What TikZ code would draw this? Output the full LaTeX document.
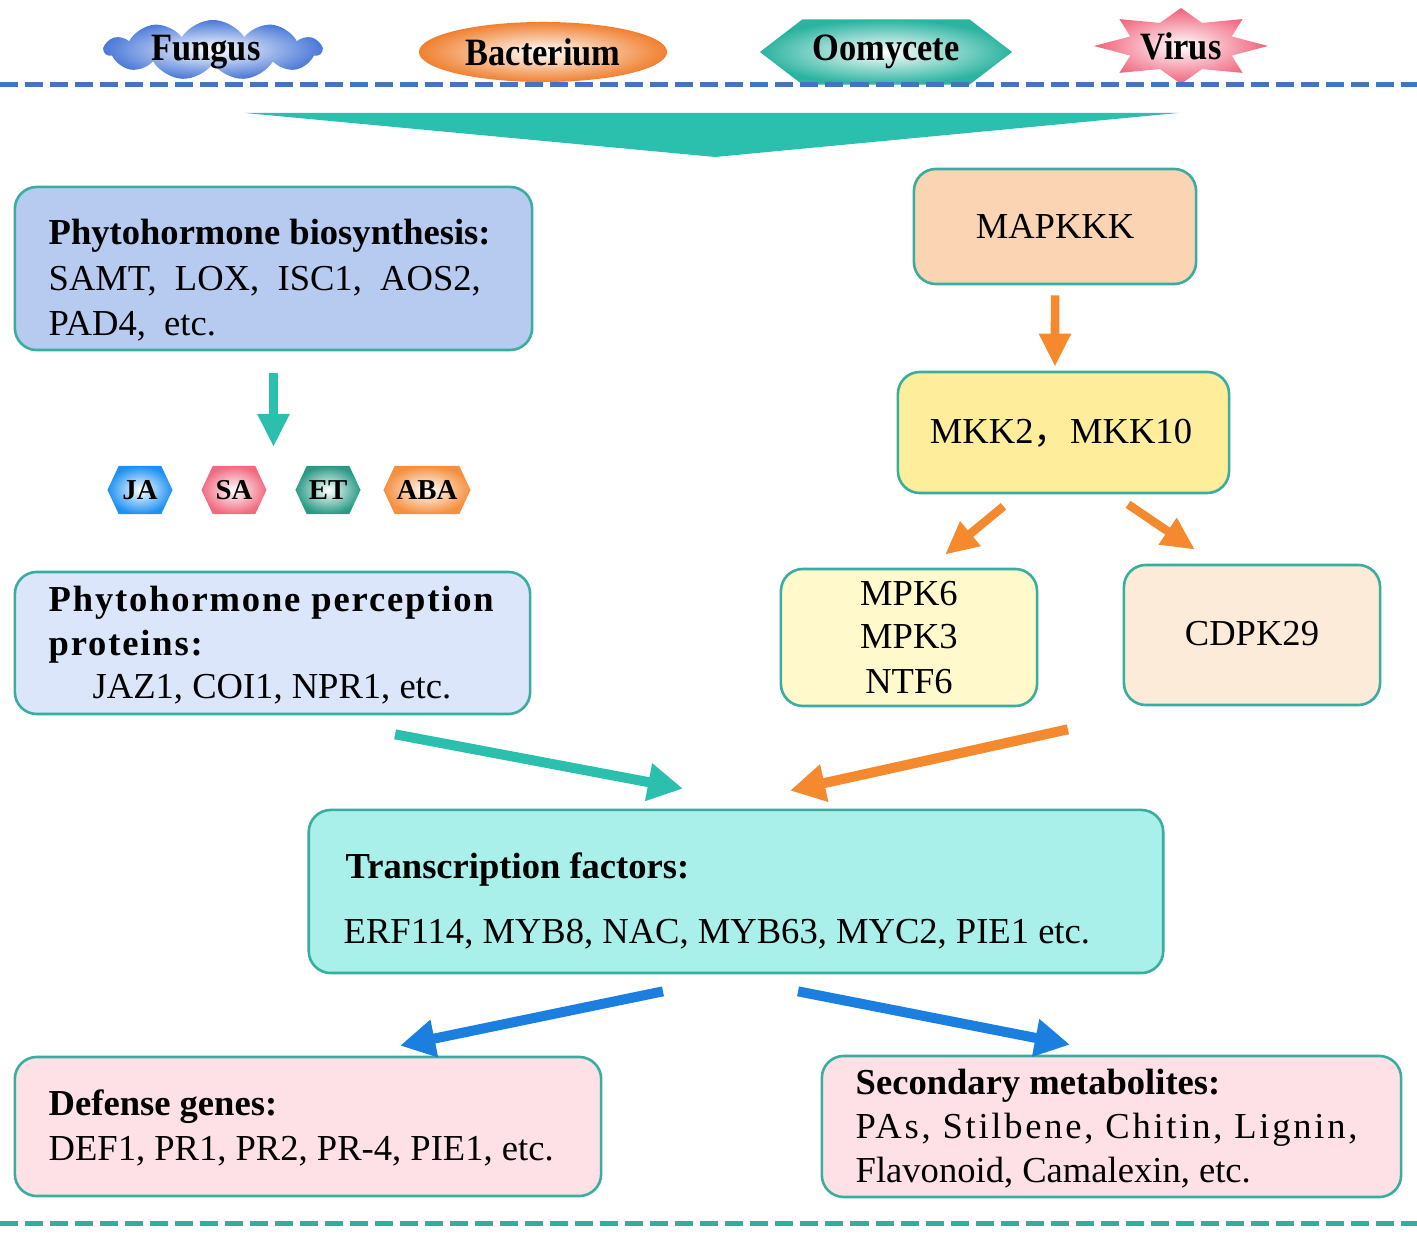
\documentclass[tikz,border=0pt]{standalone}
\usepackage{fontspec}
\setmainfont{Liberation Serif}
\newfontfamily\cjkfont{Noto Sans CJK SC}
\newfontfamily\tagfont[FakeStretch=0.89]{Liberation Serif}
\usetikzlibrary{shapes.geometric,shapes.symbols,arrows.meta}

\definecolor{boxLine}{HTML}{3AAE9E}
\definecolor{bioFill}{HTML}{B7CAF0}
\definecolor{perFill}{HTML}{DCE6FA}
\definecolor{mapFill}{HTML}{FBD4B4}
\definecolor{mkkFill}{HTML}{FEEE9B}
\definecolor{mpkFill}{HTML}{FFF9CC}
\definecolor{cdpFill}{HTML}{FDEBDA}
\definecolor{tfFill}{HTML}{AAF0EA}
\definecolor{outFill}{HTML}{FDE1E6}
\definecolor{tealArr}{HTML}{2BBFAE}
\definecolor{orangeArr}{HTML}{F5892E}
\definecolor{blueArr}{HTML}{1A7FDE}
\definecolor{dashBlue}{HTML}{4472C4}
\definecolor{dashTeal}{HTML}{30B09C}
\definecolor{fungBlue}{HTML}{4A78D8}
\definecolor{bactOrange}{HTML}{F08030}
\definecolor{oomTeal}{HTML}{2AB3A0}
\definecolor{virPink}{HTML}{F0607A}
\definecolor{jaBlue}{HTML}{1E90F0}
\definecolor{saPink}{HTML}{F06A80}
\definecolor{etTeal}{HTML}{2A9A85}
\definecolor{abaOrange}{HTML}{F59040}

\newcommand\txtsize{\fontsize{10.4}{12.5}\selectfont}
\newcommand\tagsize{\fontsize{11}{13}\selectfont}

\begin{document}
\begin{tikzpicture}[x=0.01cm, y=-0.01cm]
\tikzset{pbox/.style={draw=boxLine, line width=0.026cm, rounded corners=0.22cm, inner sep=0pt},
  txt/.style={anchor=base west, inner sep=0pt, font=\txtsize},
  hexTag/.style={signal, signal to=west and east, signal pointer angle=130, minimum width=0.65cm,
    minimum height=0.48cm, inner sep=0pt, inner color=white, font=\fontsize{8.2}{9}\selectfont\bfseries},
  smallarrow/.style={-{Triangle[length=0.33cm,width=0.3cm]}, line width=0.085cm},
  bigarrow/.style={-{Triangle[length=0.35cm,width=0.36cm]}, line width=0.1cm},
  dashline/.style={line width=0.05cm, dash pattern=on 0.18cm off 0.07cm}}
\useasboundingbox (0,0) rectangle (1417,1237);

% pathogens
\node[cloud, cloud puffs=11, cloud puff arc=115, cloud ignores aspect, minimum width=2.17cm, minimum height=0.6cm,
  inner sep=0pt, inner color=white, outer color=fungBlue] (fungCloud) at (213,50) {};
\node[inner sep=0pt, font=\tagsize\tagfont\bfseries] (fungus) at (206,52) {Fungus};
\node[ellipse, minimum width=2.48cm, minimum height=0.6cm, inner sep=0pt, inner color=white,
  outer color=bactOrange, font=\tagsize\tagfont\bfseries] (bacterium) at (543,52) {Bacterium};
\node[signal, signal to=west and east, signal pointer angle=75, minimum width=2.52cm, minimum height=0.65cm,
  inner sep=0pt, inner color=white, outer color=oomTeal, font=\tagsize\tagfont\bfseries] (oomycete) at (886,52) {Oomycete};
\shade[shift={(1181,46)}, inner color=white, outer color=virPink] (0:87 and 38)
  \foreach \a in {0,45,...,315} { -- (\a:87 and 38) -- (\a+22.5:55 and 25) } -- cycle;
\node[inner sep=0pt, font=\tagsize\tagfont\bfseries] (virus) at (1181,46) {Virus};
\draw[dashline, dashBlue] (0,85) -- (1417,85);

% funnel
\fill[tealArr] (245,113) -- (1178,113) -- (715,157) -- cycle;

% hormone branch
\node[pbox, fill=bioFill, minimum width=5.17cm, minimum height=1.63cm] (bio) at (273.5,268.5) {};
\node[txt, font=\txtsize\bfseries] (bioHd) at (48,245) {Phytohormone biosynthesis:};
\node[txt] (bioL1) at (48,291) {SAMT,\ \ LOX,\ \ ISC1,\ \ AOS2,};
\node[txt] (bioL2) at (48,336) {PAD4,\ \ etc.};

\coordinate (hormTop) at (273.5,447);
\node[hexTag, outer color=jaBlue] (ja) at (140,490) {JA};
\node[hexTag, outer color=saPink] (sa) at (234,490) {SA};
\node[hexTag, outer color=etTeal] (et) at (328,490) {ET};
\node[hexTag, outer color=abaOrange, minimum width=0.87cm] (aba) at (427,490) {ABA};

\node[pbox, fill=perFill, minimum width=5.15cm, minimum height=1.42cm] (per) at (272.5,643) {};
\node[txt, font=\txtsize\bfseries\addfontfeature{LetterSpace=5}] (perHd) at (48,612) {Phytohormone perception};
\node[txt, font=\txtsize\bfseries\addfontfeature{LetterSpace=5}] (perHd2) at (48,656) {proteins:};
\node[txt] (perL1) at (92,699) {JAZ1, COI1, NPR1, etc.};

% MAPK branch
\node[pbox, fill=mapFill, minimum width=2.82cm, minimum height=1.15cm] (mapk) at (1055,226.5) {};
\node[txt, anchor=base] (mapTxt) at (1055,239) {MAPKKK};
\node[pbox, fill=mkkFill, minimum width=3.31cm, minimum height=1.21cm] (mkk) at (1063.5,432.5) {};
\node[txt, anchor=base] (mkkTxt) at (1061,444) {MKK2{\cjkfont ，}MKK10};
\node[pbox, fill=mpkFill, minimum width=2.56cm, minimum height=1.37cm] (mpk) at (909,637.5) {};
\node[txt, anchor=base] (mpk6) at (909,606) {MPK6};
\node[txt, anchor=base] (mpk3) at (909,649) {MPK3};
\node[txt, anchor=base] (ntf6) at (909,694) {NTF6};
\node[pbox, fill=cdpFill, minimum width=2.56cm, minimum height=1.4cm] (cdpk) at (1252,635) {};
\node[txt, anchor=base] (cdpTxt) at (1252,646) {CDPK29};

% transcription factors
\node[pbox, fill=tfFill, minimum width=8.54cm, minimum height=1.63cm] (tf) at (736,891.5) {};
\node[txt, font=\txtsize\bfseries] (tfHd) at (345,879) {Transcription factors:};
\node[txt] (tfL1) at (343,944) {ERF114, MYB8, NAC, MYB63, MYC2, PIE1 etc.};

% outputs
\node[pbox, fill=outFill, minimum width=5.86cm, minimum height=1.39cm] (def) at (308,1126.5) {};
\node[txt, font=\txtsize\bfseries] (defHd) at (48,1116) {Defense genes:};
\node[txt] (defL1) at (48,1161) {DEF1, PR1, PR2, PR-4, PIE1, etc.};
\node[pbox, fill=outFill, minimum width=5.79cm, minimum height=1.41cm] (sec) at (1111.5,1126.5) {};
\node[txt, font=\txtsize\bfseries] (secHd) at (855,1095) {Secondary metabolites:};
\node[txt, font=\txtsize\addfontfeature{LetterSpace=7.5}] (secL1) at (855,1139) {PAs, Stilbene, Chitin, Lignin,};
\node[txt] (secL2) at (855,1183) {Flavonoid, Camalexin, etc.};

\draw[dashline, dashTeal] (0,1224) -- (1417,1224);

% connectors
\path ([yshift=-0.22cm]bio.south) edge [smallarrow, draw=tealArr] (hormTop);
\path ([yshift=-0.1cm]mapk.south) edge [smallarrow, draw=orangeArr] ([xshift=-0.085cm,yshift=0.04cm]mkk.north);
\path ([xshift=-0.6cm,yshift=-0.12cm]mkk.south) edge [smallarrow, draw=orangeArr] ([xshift=0.36cm,yshift=0.13cm]mpk.north);
\path ([xshift=0.645cm,yshift=-0.1cm]mkk.south) edge [smallarrow, draw=orangeArr] ([xshift=-0.57cm,yshift=0.14cm]cdpk.north);
\path ([xshift=1.225cm,yshift=-0.19cm]per.south) edge [bigarrow, draw=tealArr] ([xshift=-0.53cm,yshift=0.2cm]tf.north);
\path ([xshift=-1.84cm,yshift=-0.23cm]cdpk.south) edge [bigarrow, draw=orangeArr] ([xshift=0.54cm,yshift=0.18cm]tf.north);
\path ([xshift=-0.73cm,yshift=-0.17cm]tf.south) edge [bigarrow, draw=blueArr] ([xshift=0.92cm,yshift=0.1cm]def.north);
\path ([xshift=0.62cm,yshift=-0.17cm]tf.south) edge [bigarrow, draw=blueArr] ([xshift=-0.415cm,yshift=0.1cm]sec.north);
\end{tikzpicture}
\end{document}
